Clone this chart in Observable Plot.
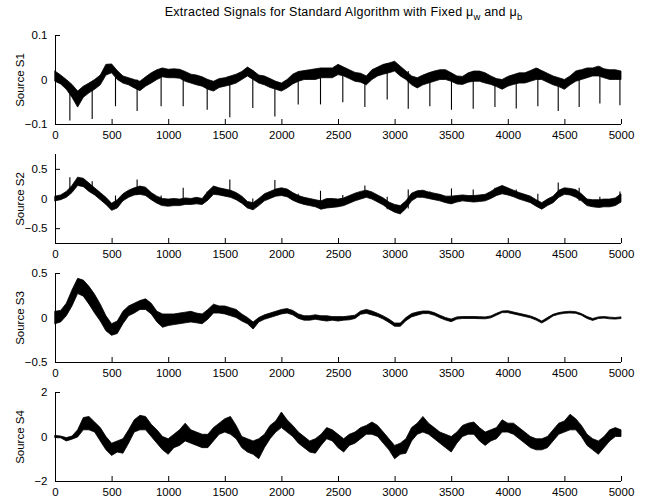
<!DOCTYPE html>
<html>
<head>
<meta charset="utf-8">
<script src="https://cdn.jsdelivr.net/npm/d3@7"></script>
<script src="https://cdn.jsdelivr.net/npm/@observablehq/plot@0.6"></script>
<style>
  body { margin: 0; background: #fff; }
  #figure { width: 647px; font-family: "Liberation Sans", Arial, Helvetica, sans-serif; color: #000; }
  #title { box-sizing: border-box; width: 647px; height: 24px; padding: 5px 0 0 40px; text-align: center; font-size: 12.5px; letter-spacing: 0.25px; line-height: 14px; }
  #title sub { font-size: 9.5px; vertical-align: -4px; line-height: 0; letter-spacing: 0; }
  #figure svg { display: block; }
</style>
</head>
<body>
<div id="figure">
  <div id="title">Extracted Signals for Standard Algorithm with Fixed μ<sub>w</sub> and μ<sub>b</sub></div>
</div>
<script>
// Each extracted source is summarised per 50-sample block by the lowest and
// highest value the trace reaches inside that block (samples 0 … 5000).
const sampleStep = 50;
const xTicks = [0, 500, 1000, 1500, 2000, 2500, 3000, 3500, 4000, 4500, 5000];

const s1Low = [-0.004,-0.010,-0.022,-0.040,-0.062,-0.040,-0.030,-0.022,-0.012,0.010,
  0.015,0.000,-0.008,-0.012,-0.019,-0.025,-0.015,-0.008,0.000,0.006,
  0.004,0.004,0.003,-0.004,-0.008,-0.012,-0.015,-0.022,-0.026,-0.018,
  -0.015,-0.012,-0.008,0.000,0.008,0.000,-0.008,-0.012,-0.018,-0.022,
  -0.026,-0.019,-0.010,-0.004,0.000,0.000,0.000,0.004,0.004,0.004,
  0.011,0.008,0.002,-0.004,-0.006,-0.012,0.000,0.008,0.012,0.015,
  0.019,0.008,0.000,-0.012,-0.019,-0.012,-0.008,-0.004,0.000,0.000,
  -0.004,-0.010,-0.011,-0.006,-0.004,-0.004,-0.008,-0.011,-0.016,-0.022,
  -0.015,-0.011,-0.008,-0.008,-0.004,0.000,0.000,-0.006,-0.012,-0.016,
  -0.022,-0.012,-0.004,0.000,0.004,0.008,0.008,0.004,0.000,0.000,0.000];
const s1High = [0.019,0.010,0.000,-0.011,-0.026,-0.015,-0.008,0.000,0.010,0.034,
  0.035,0.020,0.008,0.004,0.000,-0.004,0.006,0.015,0.022,0.026,
  0.023,0.024,0.023,0.018,0.012,0.010,0.006,0.000,-0.004,0.002,
  0.004,0.008,0.012,0.018,0.028,0.020,0.010,0.008,0.002,-0.004,
  -0.008,0.000,0.012,0.018,0.020,0.022,0.024,0.026,0.026,0.026,
  0.034,0.028,0.022,0.016,0.014,0.008,0.022,0.028,0.034,0.037,
  0.041,0.030,0.019,0.008,0.004,0.010,0.015,0.019,0.022,0.022,
  0.015,0.008,0.007,0.015,0.019,0.019,0.015,0.008,0.002,0.000,
  0.007,0.011,0.015,0.015,0.020,0.026,0.020,0.014,0.008,0.004,
  0.000,0.008,0.019,0.022,0.026,0.026,0.030,0.024,0.022,0.022,0.019];

// Sample positions of the periodic impulses, and how far S1 dips at each.
const impulseAt = [127,324,530,721,933,1128,1340,1540,1743,1938,2144,2341,2538,
  2733,2930,3116,3307,3498,3690,3882,4070,4261,4441,4626,4809,4986];
const s1ImpulseTip = [-0.092,-0.089,-0.060,-0.071,-0.060,-0.060,-0.068,-0.085,-0.064,
  -0.083,-0.056,-0.056,-0.051,-0.062,-0.045,-0.066,-0.060,-0.068,-0.066,-0.062,
  -0.065,-0.060,-0.071,-0.062,-0.054,-0.058];
// The same impulses leak upward into S2.
const s2ImpulseTip = [0.36,0.29,0.05,0.32,0.05,0.18,0.12,0.32,0.00,0.31,0.08,0.13,
  0.06,0.22,0.03,0.15,0.12,0.17,0.15,0.18,0.15,0.08,0.27,0.18,0.03,0.12];

const s2Low = [-0.04,-0.02,0.02,0.10,0.22,0.20,0.12,0.06,-0.02,-0.10,
  -0.20,-0.16,-0.04,0.02,0.06,0.07,0.05,-0.02,-0.08,-0.12,
  -0.13,-0.12,-0.12,-0.10,-0.10,-0.09,-0.10,-0.03,0.07,0.06,
  0.04,0.02,-0.02,-0.08,-0.16,-0.19,-0.12,-0.04,0.00,0.04,
  0.05,0.03,-0.03,-0.07,-0.10,-0.12,-0.14,-0.18,-0.16,-0.15,
  -0.14,-0.12,-0.08,-0.04,-0.01,0.02,-0.01,-0.06,-0.11,-0.18,
  -0.23,-0.26,-0.17,-0.04,0.02,0.02,0.00,-0.02,-0.04,-0.07,
  -0.09,-0.06,-0.04,-0.05,-0.06,-0.05,-0.04,0.00,0.05,0.08,
  0.06,0.03,-0.01,-0.04,-0.07,-0.13,-0.18,-0.12,-0.07,0.02,
  0.07,0.06,0.02,-0.04,-0.12,-0.14,-0.15,-0.14,-0.14,-0.12,-0.06];
const s2High = [0.04,0.06,0.12,0.22,0.36,0.34,0.26,0.18,0.10,0.02,
  -0.08,-0.02,0.08,0.14,0.18,0.21,0.19,0.10,0.04,0.00,
  -0.01,0.00,-0.01,0.01,0.00,0.02,0.00,0.12,0.21,0.18,
  0.16,0.14,0.10,0.04,-0.05,-0.07,0.00,0.08,0.12,0.16,
  0.18,0.16,0.10,0.05,0.02,0.00,-0.02,-0.04,0.00,0.00,
  -0.01,0.01,0.05,0.09,0.12,0.14,0.11,0.06,0.01,-0.06,
  -0.10,-0.12,-0.04,0.09,0.13,0.14,0.11,0.09,0.07,0.04,
  0.04,0.05,0.06,0.05,0.05,0.06,0.07,0.12,0.18,0.22,
  0.18,0.14,0.10,0.07,0.04,-0.02,-0.07,-0.01,0.04,0.14,
  0.18,0.17,0.15,0.08,-0.01,-0.02,-0.02,-0.01,-0.01,0.01,0.08];

const s3Low = [-0.07,-0.05,0.02,0.13,0.27,0.24,0.15,0.05,-0.04,-0.15,
  -0.20,-0.18,-0.07,0.02,0.05,0.09,0.09,0.04,-0.05,-0.11,
  -0.09,-0.08,-0.07,-0.06,-0.05,-0.06,-0.07,-0.02,0.05,0.05,
  0.04,0.02,0.00,-0.04,-0.07,-0.13,-0.05,-0.02,0.00,0.02,
  0.04,0.05,0.03,-0.01,-0.03,-0.03,-0.02,-0.03,-0.04,-0.03,
  -0.04,-0.03,-0.026,-0.011,0.036,0.047,0.029,0.011,-0.018,-0.055,
  -0.099,-0.099,-0.036,0.007,0.026,0.044,0.044,0.026,-0.004,-0.029,
  -0.047,-0.018,-0.011,-0.011,-0.011,-0.013,-0.015,-0.004,0.026,0.055,
  0.055,0.040,0.026,0.011,-0.004,-0.029,-0.062,-0.026,0.018,0.036,
  0.047,0.051,0.047,0.026,-0.011,-0.033,-0.011,-0.007,-0.015,-0.018,-0.011];
const s3High = [0.07,0.08,0.16,0.31,0.44,0.42,0.35,0.26,0.15,0.02,
  -0.07,-0.04,0.07,0.13,0.16,0.19,0.21,0.16,0.07,0.04,
  0.04,0.04,0.05,0.06,0.07,0.05,0.04,0.09,0.15,0.13,
  0.13,0.11,0.09,0.04,0.00,-0.05,0.00,0.03,0.05,0.07,
  0.09,0.10,0.08,0.04,0.02,0.02,0.03,0.02,0.02,0.01,
  0.01,0.01,0.018,0.026,0.073,0.091,0.073,0.047,0.018,-0.018,
  -0.062,-0.062,0.000,0.044,0.062,0.073,0.073,0.055,0.026,0.000,
  -0.018,0.007,0.011,0.011,0.011,0.009,0.007,0.018,0.047,0.073,
  0.077,0.062,0.047,0.033,0.018,-0.007,-0.040,0.000,0.036,0.055,
  0.066,0.070,0.066,0.044,0.011,-0.011,0.007,0.011,0.004,0.000,0.007];

const s4Low = [-0.05,-0.06,-0.20,-0.12,-0.02,0.30,0.30,0.20,-0.20,-0.60,
  -0.85,-0.70,-0.75,-0.30,0.20,0.30,0.30,0.00,-0.30,-0.60,
  -0.80,-0.50,-0.40,-0.20,-0.30,-0.40,-0.50,-0.50,-0.20,0.10,
  0.20,0.10,-0.10,-0.50,-0.70,-0.80,-1.00,-0.50,-0.10,0.20,
  0.40,0.20,0.00,-0.30,-0.50,-0.70,-0.75,-0.40,-0.10,-0.20,
  -0.50,-0.70,-0.40,-0.30,-0.10,0.10,0.10,0.00,-0.30,-0.60,
  -1.00,-0.80,-0.75,-0.20,0.10,0.20,0.10,-0.10,-0.30,-0.50,
  -0.70,-0.30,0.00,0.10,0.10,-0.20,-0.40,-0.20,-0.10,0.20,
  0.20,0.10,-0.10,-0.30,-0.50,-0.60,-0.60,-0.50,-0.20,0.10,
  0.20,0.30,0.30,0.00,-0.40,-0.60,-0.80,-0.50,-0.20,0.00,0.00];
const s4High = [0.05,0.02,-0.05,0.02,0.30,0.85,0.90,0.65,0.40,0.00,
  -0.30,-0.20,-0.10,0.30,0.75,0.95,0.90,0.55,0.30,0.00,
  -0.10,0.10,0.30,0.60,0.30,0.20,0.10,0.10,0.40,0.60,
  0.80,0.90,0.50,0.00,-0.10,-0.20,-0.10,0.10,0.50,0.70,
  1.10,0.75,0.50,0.20,0.00,-0.20,-0.10,0.10,0.40,0.30,
  0.10,-0.10,0.10,0.20,0.40,0.50,0.65,0.50,0.20,-0.10,
  -0.40,-0.30,-0.10,0.40,0.60,0.90,0.60,0.40,0.20,0.10,
  0.00,0.20,0.50,0.60,0.65,0.40,0.20,0.30,0.40,0.75,
  0.60,0.60,0.40,0.20,0.00,-0.10,-0.10,0.00,0.30,0.60,
  0.70,1.00,0.80,0.50,0.10,-0.10,-0.20,0.00,0.30,0.40,0.30];

const panels = [
  {label: "Source S1", low: s1Low, high: s1High, yDomain: [-0.1, 0.1], yTicks: [-0.1, 0, 0.1],
   impulseTip: s1ImpulseTip},
  {label: "Source S2", low: s2Low, high: s2High, yDomain: [-0.75, 0.75], yTicks: [-0.5, 0, 0.5],
   impulseTip: s2ImpulseTip},
  {label: "Source S3", low: s3Low, high: s3High, yDomain: [-0.5, 0.5], yTicks: [-0.5, 0, 0.5]},
  {label: "Source S4", low: s4Low, high: s4High, yDomain: [-2, 2], yTicks: [-2, 0, 2]}
];

const W = 647, ML = 55, MR = 26, MT = 11, INNER_H = 89;
const innerW = W - ML - MR;
const tick = 5;
const font = '"Liberation Sans", Arial, Helvetica, sans-serif';
const figure = document.getElementById("figure");
// Plain numeric labels: shortest form, true minus sign.
const plainNumber = d => String(d).replace("-", "\u2212");

panels.forEach((p, k) => {
  const last = k === panels.length - 1;
  const MB = last ? 23 : 19;
  const H = MT + INNER_H + MB;
  const rows = p.low.map((lo, i) => ({t: i * sampleStep, lo, hi: p.high[i]}));
  const marks = [
    Plot.areaY(rows, {x: "t", y1: "lo", y2: "hi", fill: "#000", stroke: "#000", strokeWidth: 0.8}),
  ];
  if (p.impulseTip) {
    const down = p.impulseTip[0] < 0;
    const spikes = impulseAt.map((t, i) => {
      const j = Math.min(rows.length - 1, Math.round(t / sampleStep));
      return {t, tip: p.impulseTip[i], base: down ? rows[j].hi : rows[j].lo};
    });
    marks.push(Plot.ruleX(spikes, {x: "t", y1: "base", y2: "tip", stroke: "#000", strokeWidth: 1.1}));
  }
  marks.push(
    // axis lines (left and bottom only) with inward ticks
    Plot.ruleX([0], {stroke: "#000", strokeWidth: 1}),
    Plot.ruleY([p.yDomain[0]], {stroke: "#000", strokeWidth: 1}),
    Plot.ruleX(xTicks, {stroke: "#000", strokeWidth: 1, insetTop: INNER_H - tick}),
    Plot.ruleY(p.yTicks, {stroke: "#000", strokeWidth: 1, insetRight: innerW - tick}),
    Plot.axisX({ticks: xTicks, tickSize: 0, tickPadding: 6, tickFormat: plainNumber, label: null}),
    Plot.axisY({ticks: p.yTicks, tickSize: 0, tickPadding: 8, tickFormat: plainNumber, label: p.label,
      labelAnchor: "center", labelOffset: 40, labelArrow: "none"})
  );
  const svg = Plot.plot({
    width: W, height: H,
    marginLeft: ML, marginRight: MR, marginTop: MT, marginBottom: MB,
    x: {domain: [0, 5000]},
    y: {domain: p.yDomain},
    style: {fontFamily: font, fontSize: "11.5px", color: "#000", background: "#fff", overflow: "visible"},
    marks
  });
  figure.appendChild(svg);
});
</script>
</body>
</html>
